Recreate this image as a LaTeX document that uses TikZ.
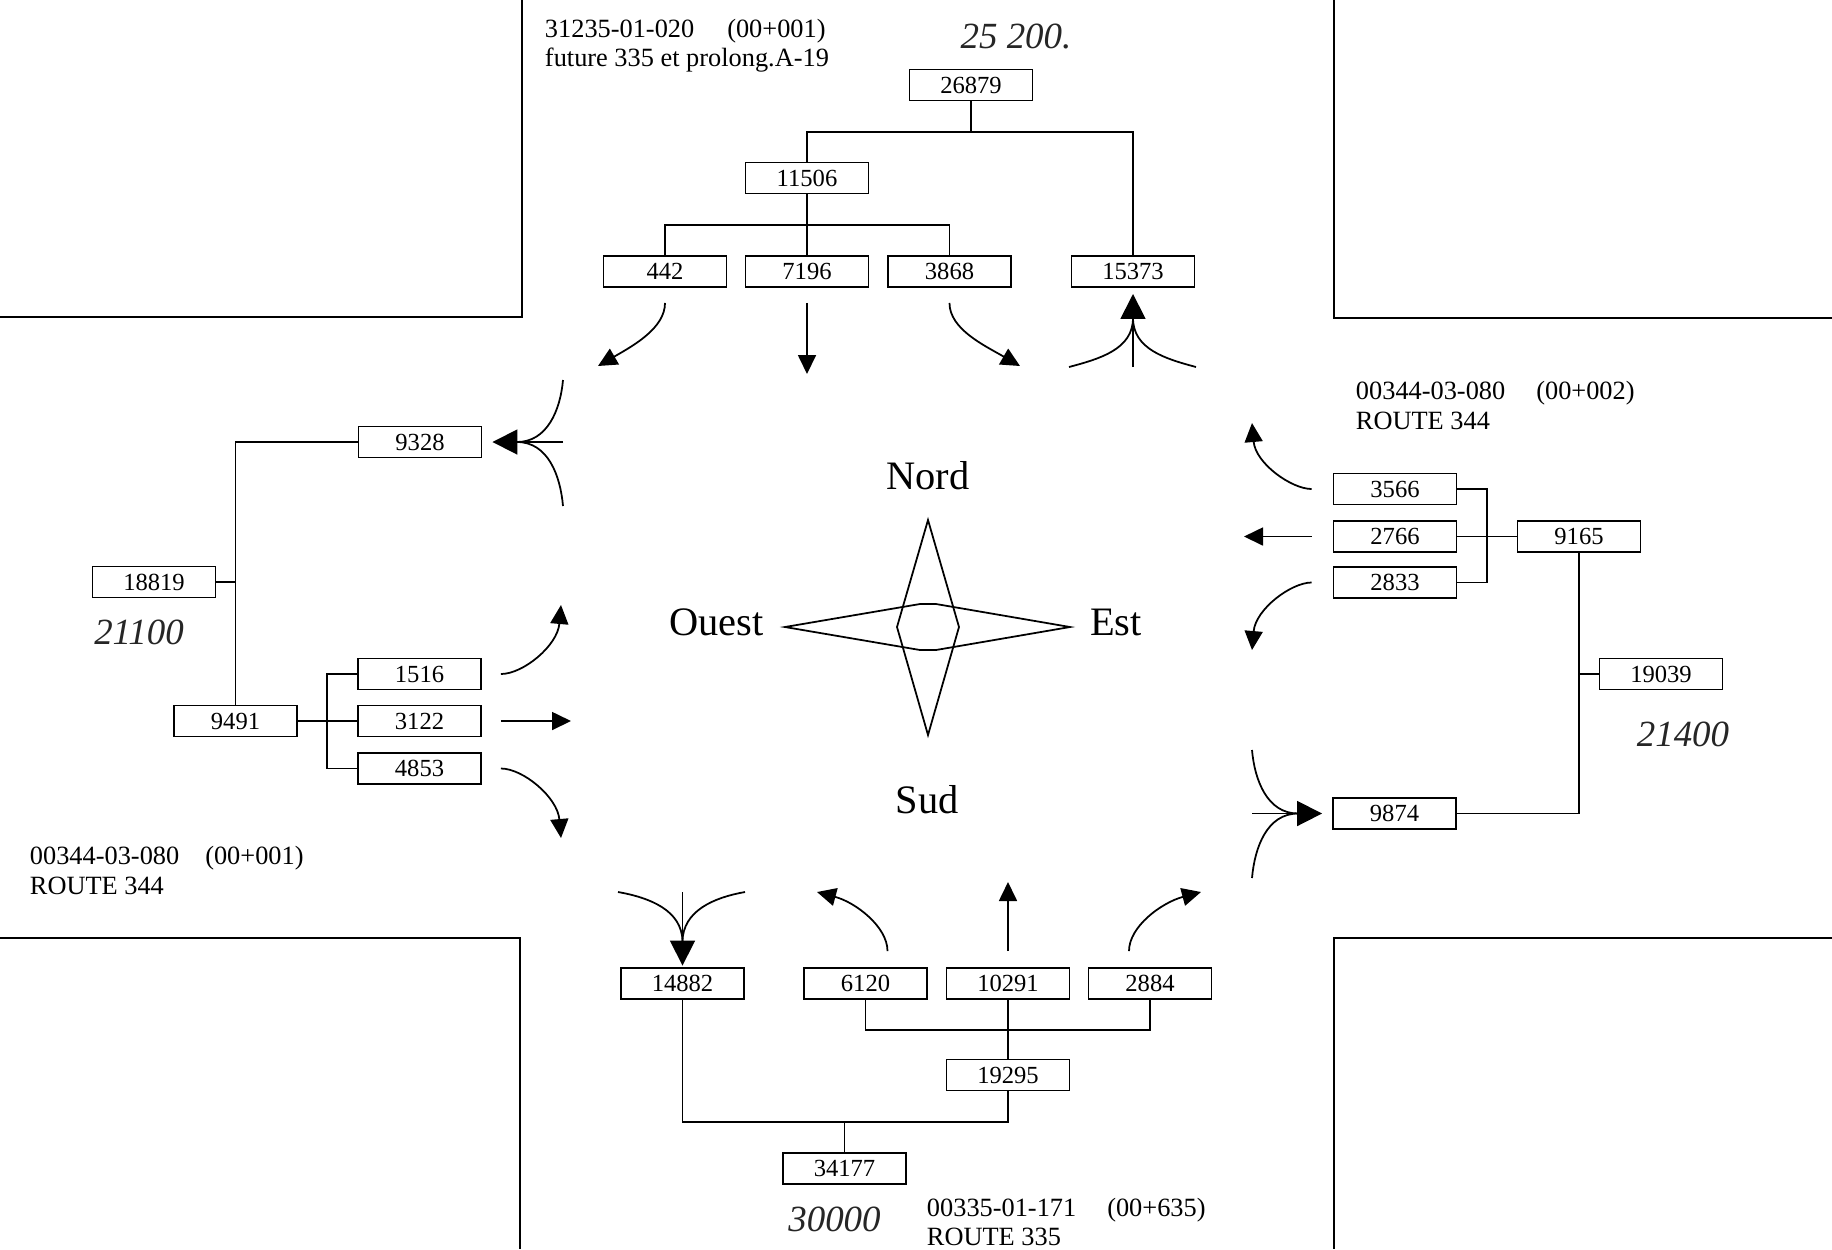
\documentclass[tikz,border=0pt]{standalone}
\usepackage{fontspec}
\setmainfont{Liberation Serif}
\usetikzlibrary{positioning, arrows.meta, calc}

\begin{document}
\begin{tikzpicture}[
    x=0.02cm, y=0.02cm,
    line width=1.1pt,
    countbox/.style={
        draw,
        minimum width=2.46cm,
        minimum height=0.62cm,
        inner sep=0pt,
        font=\fontsize{14}{16}\selectfont
    },
    addr/.style={
        anchor=base west,
        inner sep=0pt,
        font=\fontsize{15}{17}\selectfont
    },
    cardinal/.style={
        anchor=base,
        inner sep=0pt,
        font=\fontsize{23}{26}\selectfont
    },
    hand/.style={
        font=\fontsize{21}{24}\selectfont\itshape,
        text=black!85
    },
    link/.style={line width=1pt},
    feed/.style={line width=1pt},
    outarr/.style={
        line width=1pt,
        -{Triangle[length=0.38cm, width=0.36cm]}
    },
    inarr/.style={
        line width=1pt,
        -{Triangle[length=0.5cm, width=0.5cm]}
    }
]

\fill[white] (0,0) rectangle (1832,-1249);
\useasboundingbox (0,0) rectangle (1832,-1249);

% --- coins des ilots ---
\draw (0,-317) -- (522,-317) -- (522,0);
\draw (1832,-318) -- (1334,-318) -- (1334,0);
\draw (0,-938) -- (520,-938) -- (520,-1249);
\draw (1832,-938) -- (1334,-938) -- (1334,-1249);

% --- Nord ---
\node[countbox] (N1) at (971,-85) {26879};
\node[countbox] (N2) at (807,-178) {11506};
\node[countbox] (N3) at (665,-271.5) {442};
\node[countbox] (N4) at (807,-271.5) {7196};
\node[countbox] (N5) at (949.5,-271.5) {3868};
\node[countbox] (N6) at (1133,-271.5) {15373};

\coordinate (Nbus1) at (0,-132);
\coordinate (Nbus2) at (0,-225);
\draw[link] (N1.south) -- (N1.south |- Nbus1);
\draw[link] (N2.north) |- (Nbus1 -| N6.north) -- (N6.north);
\draw[link] (N2.south) -- (N4.north);
\draw[link] (N3.north) |- (Nbus2 -| N5.north) -- (N5.north);

\coordinate (N3t) at (598,-366);
\coordinate (N4t) at (807,-374);
\coordinate (N5t) at (1020,-366);
\draw[outarr, shorten <=0.3cm] (N3.south) to[out=-90, in=30] (N3t);
\draw[outarr, shorten <=0.3cm] (N4.south) -- (N4t);
\draw[outarr, shorten <=0.3cm] (N5.south) to[out=-90, in=150] (N5t);

\coordinate (N6a) at (1133,-367);
\coordinate (N6b) at (1069,-367);
\coordinate (N6c) at (1196,-367);
\coordinate (N6h) at (1133,-318);
\draw[inarr, shorten >=0.12cm] (N6a) -- (N6.south);
\draw[feed] (N6b) to[out=15, in=-90] (N6h);
\draw[feed] (N6c) to[out=165, in=-90] (N6h);

\node[addr] (adrN1) at (544,-37) {31235-01-020\hspace{0.66cm}(00+001)};
\node[addr] (adrN2) at (544,-66) {future 335 et prolong.A-19};
\node[hand] (noteN) at (1016,-36) {25 200.};

% --- Ouest ---
\node[countbox] (O1) at (420,-442) {9328};
\node[countbox] (O2) at (154,-582) {18819};
\node[countbox] (O3) at (235.5,-721) {9491};
\node[countbox] (O4) at (419.5,-674) {1516};
\node[countbox] (O5) at (419.5,-721) {3122};
\node[countbox] (O6) at (419.5,-768.5) {4853};

\coordinate (Obus) at (327,0);
\draw[link] (O1.west) -| (O3.north);
\draw[link] (O2.east) -- (O2.east -| O3.north);
\draw[link] (O3.east) -- (O5.west);
\draw[link] (O4.west) -- (O4.west -| Obus) -- (O6.west -| Obus) -- (O6.west);

\coordinate (O1a) at (563,-442);
\coordinate (O1b) at (563,-380);
\coordinate (O1c) at (563,-506);
\coordinate (O1h) at (517,-442);
\draw[inarr, shorten >=0.2cm] (O1a) -- (O1.east);
\draw[feed] (O1b) to[out=-95, in=0] (O1h);
\draw[feed] (O1c) to[out=95, in=0] (O1h);

\coordinate (O4t) at (561,-605);
\coordinate (O5t) at (571,-721);
\coordinate (O6t) at (561,-838);
\draw[outarr, shorten <=0.38cm] (O4.east) to[out=0, in=-95] (O4t);
\draw[outarr, shorten <=0.38cm] (O5.east) -- (O5t);
\draw[outarr, shorten <=0.38cm] (O6.east) to[out=0, in=95] (O6t);

\node[hand, below=0.3cm of O2, xshift=-0.3cm] (noteO) {21100};
\node[addr] (adrO1) at (29,-864) {00344-03-080\hspace{0.52cm}(00+001)};
\node[addr] (adrO2) at (29,-894) {ROUTE 344};

% --- Est ---
\node[countbox] (E1) at (1395,-489) {3566};
\node[countbox] (E2) at (1395,-536.5) {2766};
\node[countbox] (E3) at (1395,-582.5) {2833};
\node[countbox] (E4) at (1579,-536.5) {9165};
\node[countbox] (E5) at (1661,-674) {19039};
\node[countbox] (E6) at (1394.5,-813.5) {9874};

\coordinate (Ebus) at (1487,0);
\draw[link] (E1.east) -- (E1.east -| Ebus) -- (E3.east -| Ebus) -- (E3.east);
\draw[link] (E2.east) -- (E4.west);
\draw[link] (E4.south) |- (E6.east);
\draw[link] (E5.west) -- (E5.west -| E4.south);

\coordinate (E1t) at (1252,-423);
\coordinate (E2t) at (1244,-536.5);
\coordinate (E3t) at (1252,-650);
\draw[outarr, shorten <=0.42cm] (E1.west) to[out=180, in=-85] (E1t);
\draw[outarr, shorten <=0.42cm] (E2.west) -- (E2t);
\draw[outarr, shorten <=0.42cm] (E3.west) to[out=180, in=85] (E3t);

\coordinate (E6a) at (1252,-813.5);
\coordinate (E6b) at (1252,-750);
\coordinate (E6c) at (1252,-878);
\coordinate (E6h) at (1298,-813.5);
\draw[inarr, shorten >=0.2cm] (E6a) -- (E6.west);
\draw[feed] (E6b) to[out=-85, in=180] (E6h);
\draw[feed] (E6c) to[out=85, in=180] (E6h);

\node[addr] (adrE1) at (1355,-399) {00344-03-080\hspace{0.62cm}(00+002)};
\node[addr] (adrE2) at (1355,-429) {ROUTE 344};
\node[hand, below=0.5cm of E5, xshift=0.44cm] (noteE) {21400};

% --- Sud ---
\node[countbox] (S1) at (682.5,-983.5) {14882};
\node[countbox] (S2) at (865.5,-983.5) {6120};
\node[countbox] (S3) at (1008,-983.5) {10291};
\node[countbox] (S4) at (1150,-983.5) {2884};
\node[countbox] (S5) at (1008,-1075) {19295};
\node[countbox] (S6) at (844.5,-1168.5) {34177};

\coordinate (Sbus1) at (0,-1030);
\coordinate (Sbus2) at (0,-1122);
\draw[link] (S2.south) |- (Sbus1 -| S4.south) -- (S4.south);
\draw[link] (S3.south) -- (S5.north);
\draw[link] (S1.south) |- (Sbus2 -| S5.south) -- (S5.south);
\draw[link] (S6.north) -- (S6.north |- Sbus2);

\coordinate (S1a) at (682.5,-892);
\coordinate (S1b) at (618,-892);
\coordinate (S1c) at (745,-892);
\coordinate (S1h) at (682.5,-942);
\draw[inarr, shorten >=0.03cm] (S1a) -- (S1.north);
\draw[feed] (S1b) to[out=-10, in=90] (S1h);
\draw[feed] (S1c) to[out=190, in=90] (S1h);

\coordinate (S2t) at (817,-892);
\coordinate (S3t) at (1008,-882);
\coordinate (S4t) at (1201,-892);
\draw[outarr, shorten <=0.32cm] ([xshift=0.44cm]S2.north) to[out=90, in=-15] (S2t);
\draw[outarr, shorten <=0.32cm] (S3.north) -- (S3t);
\draw[outarr, shorten <=0.32cm] ([xshift=-0.42cm]S4.north) to[out=90, in=195] (S4t);

\node[hand, below=0.3cm of S6, xshift=-0.2cm] (noteS) {30000};
\node[addr] (adrS1) at (926,-1216) {00335-01-171\hspace{0.62cm}(00+635)};
\node[addr] (adrS2) at (926,-1245) {ROUTE 335};

% --- rose des vents ---
\draw[link] (928,-520) -- (959,-627) -- (928,-735) -- (897,-627) -- cycle;
\draw[link] (785,-627) -- (920,-604) -- (936,-604) -- (1070,-627)
    -- (936,-650) -- (920,-650) -- cycle;
\node[cardinal] (nord) at (928,-489) {Nord};
\node[cardinal] (sud) at (927,-813) {Sud};
\node[cardinal] (ouest) at (716.5,-635) {Ouest};
\node[cardinal] (est) at (1116,-635) {Est};

\end{tikzpicture}
\end{document}
